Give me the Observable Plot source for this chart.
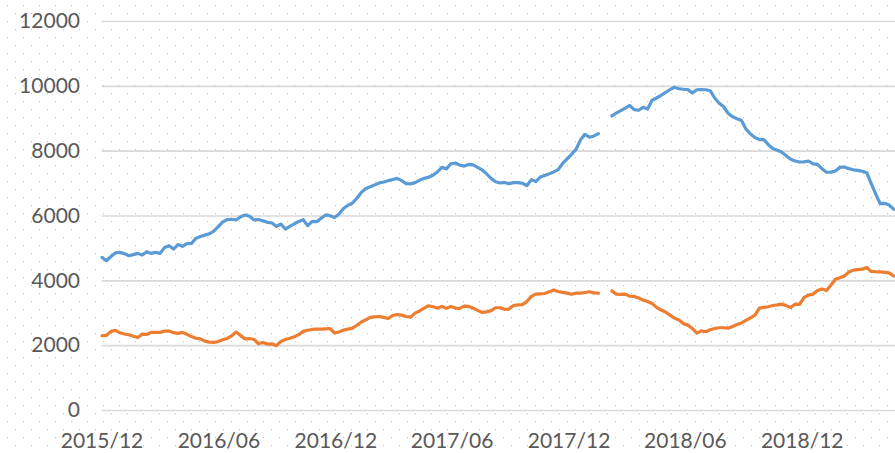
<!DOCTYPE html>
<html>
<head>
<meta charset="utf-8">
<script src="https://cdn.jsdelivr.net/npm/d3@7"></script>
<script src="https://cdn.jsdelivr.net/npm/@observablehq/plot@0.6"></script>
<style>
  html, body { margin: 0; padding: 0; }
  body {
    width: 895px; height: 453px; overflow: hidden;
    background-color: #ffffff;
    background-image: url("data:image/svg+xml;utf8,<svg xmlns='http://www.w3.org/2000/svg' width='16' height='16'><rect x='7' y='5' width='1.2' height='1.2' fill='%23c4c4c4'/><rect x='15' y='13' width='1.2' height='1.2' fill='%23c4c4c4'/></svg>");
  }
  #chart svg { display: block; background: transparent; }
</style>
</head>
<body>
<div id="chart"></div>
<script>
// Weekly series, first observation in the week of 2015/12
const startDate = "2015-12-01";
const series1Values = [
  4723,4620,4750,4860,4877,4840,4775,4810,4847,4795,
  4900,4847,4877,4847,5032,5083,4980,5120,5063,5150,
  5155,5310,5370,5410,5450,5530,5670,5820,5890,5900,
  5876,5975,6030,5990,5880,5890,5850,5804,5783,5680,
  5752,5598,5680,5760,5830,5886,5700,5834,5824,5930,
  6030,6010,5950,6061,6230,6330,6400,6550,6730,6850,
  6900,6960,7020,7050,7090,7125,7160,7090,7000,6990,
  7030,7100,7160,7193,7255,7360,7500,7455,7610,7635,
  7570,7540,7590,7580,7500,7420,7300,7160,7055,7018,
  7035,7000,7030,7030,7010,6935,7121,7060,7200,7250,
  7300,7360,7430,7620,7760,7900,8060,8350,8520,8430,
  8470,8540,null,null,9090,9170,9250,9330,9410,9282,
  9261,9354,9300,9570,9640,9720,9810,9900,9971,9925,
  9910,9899,9796,9895,9899,9895,9865,9640,9480,9370,
  9170,9060,9000,8945,8680,8530,8420,8356,8356,8200,
  8080,8030,7970,7860,7750,7697,7665,7670,7697,7610,
  7594,7460,7350,7355,7390,7500,7515,7460,7425,7409,
  7380,7335,7000,6680,6380,6390,6340,6210
];
const series2Values = [
  2305,2320,2440,2470,2400,2360,2336,2290,2254,2356,
  2346,2410,2410,2410,2450,2450,2400,2380,2408,2350,
  2280,2230,2210,2140,2110,2099,2130,2180,2223,2305,
  2420,2310,2210,2220,2190,2060,2099,2050,2058,2000,
  2130,2190,2230,2275,2340,2440,2475,2500,2511,2511,
  2520,2530,2390,2420,2480,2510,2540,2630,2730,2800,
  2871,2890,2900,2871,2840,2930,2960,2943,2900,2880,
  3005,3070,3160,3231,3200,3160,3210,3150,3210,3160,
  3149,3220,3210,3160,3090,3025,3040,3080,3170,3170,
  3120,3130,3240,3260,3265,3360,3520,3590,3600,3610,
  3660,3720,3670,3645,3620,3585,3620,3622,3640,3663,
  3630,3622,null,null,3690,3590,3580,3591,3525,3519,
  3470,3405,3360,3300,3180,3100,3040,2943,2850,2790,
  2680,2634,2530,2387,2455,2430,2490,2530,2552,2552,
  2541,2593,2650,2700,2780,2860,2943,3160,3180,3200,
  3240,3258,3282,3235,3175,3282,3272,3490,3560,3590,
  3700,3746,3700,3870,4050,4095,4150,4270,4330,4345,
  4360,4410,4290,4281,4275,4262,4245,4150
];
const seriesNames = ["S1", "S2"];
const seriesColors = ["#5B9BD5", "#ED7D31"];
const xTickLabels = ["2015/12","2016/06","2016/12","2017/06","2017/12","2018/06","2018/12"];
const yTickValues = [0, 2000, 4000, 6000, 8000, 10000, 12000];
const xDomainEnd = "2019-04-26";

const parseDay = d3.utcParse("%Y-%m-%d");
const parseMonth = d3.utcParse("%Y/%m");
const start = parseDay(startDate);
const dates = series1Values.map((_, i) => d3.utcDay.offset(start, 7 * i));

const rows = [];
series1Values.forEach((v, i) => rows.push({date: dates[i], value: v, series: seriesNames[0]}));
series2Values.forEach((v, i) => rows.push({date: dates[i], value: v, series: seriesNames[1]}));

const chart = Plot.plot({
  width: 895,
  height: 453,
  marginLeft: 101.5,
  marginRight: 0,
  marginTop: 21,
  marginBottom: 43,
  style: {
    fontFamily: "Lato, 'Liberation Sans', Arial, sans-serif",
    fontSize: "21px",
    color: "#595959",
    background: "transparent",
    overflow: "visible"
  },
  x: {type: "utc", domain: [start, parseDay(xDomainEnd)], label: null},
  y: {domain: [0, 12000], label: null},
  color: {domain: seriesNames, range: seriesColors},
  marks: [
    Plot.gridY(yTickValues, {stroke: "#d9d9d9", strokeOpacity: 1, strokeWidth: 1.6}),
    Plot.axisY(yTickValues, {tickSize: 0, tickPadding: 22, tickFormat: d => String(d), fill: "#595959", label: null}),
    Plot.axisX(xTickLabels.map(parseMonth), {tickSize: 0, tickPadding: 23, tickFormat: d3.utcFormat("%Y/%m"), fill: "#595959", label: null}),
    Plot.line(rows, {
      x: "date", y: "value", z: "series", stroke: "series",
      strokeWidth: 3.2, strokeLinejoin: "round", strokeLinecap: "round"
    })
  ]
});
document.getElementById("chart").appendChild(chart);
</script>
</body>
</html>
